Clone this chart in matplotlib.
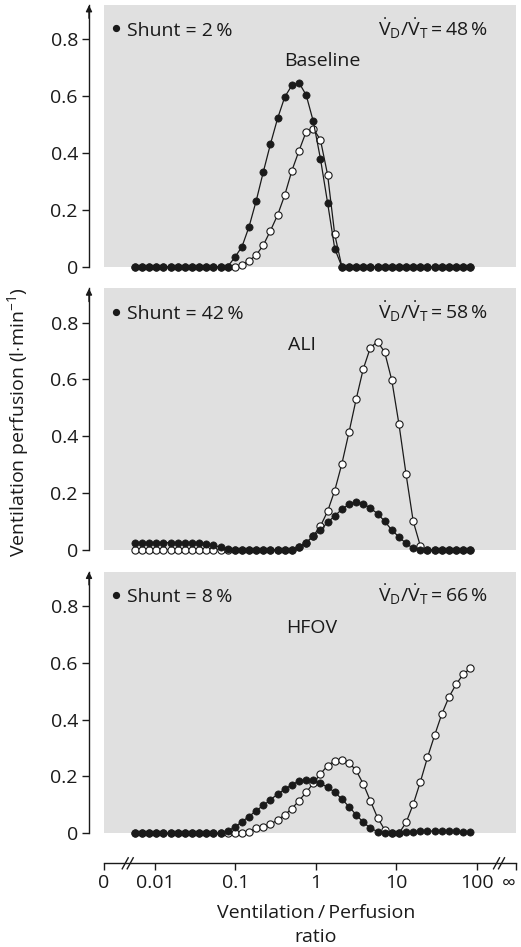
import numpy as np
import matplotlib
matplotlib.use("Agg")
import matplotlib.pyplot as plt
from matplotlib.transforms import offset_copy, IdentityTransform
from matplotlib.lines import Line2D

plt.rcParams['font.family'] = ['Open Sans', 'DejaVu Sans']
plt.rcParams['mathtext.fontset'] = 'custom'
plt.rcParams['mathtext.rm'] = 'Open Sans'
plt.rcParams['mathtext.it'] = 'Open Sans:italic'
plt.rcParams['mathtext.bf'] = 'Open Sans:bold'

# 48 V/Q compartments (log spaced)
va_q = np.logspace(-2.25, 1.92, 48)

# ventilation (open) and perfusion (filled), l/min
baseline_perf = [0]*14 + [0.033, 0.070, 0.141, 0.232, 0.334, 0.432, 0.522, 0.597, 0.638,
                          0.647, 0.604, 0.511, 0.380, 0.225, 0.064] + [0]*19
baseline_vent = [0]*14 + [0.0, 0.006, 0.021, 0.041, 0.076, 0.127, 0.182, 0.252, 0.338,
                          0.408, 0.475, 0.486, 0.446, 0.324, 0.114] + [0]*19

ali_perf = [0.026]*10 + [0.022, 0.016, 0.010, 0.005] + [0]*9 + \
    [0.012, 0.026, 0.049, 0.070, 0.097, 0.120, 0.143, 0.161, 0.169, 0.163, 0.147,
     0.128, 0.101, 0.070, 0.046, 0.023, 0.006] + [0]*8
ali_vent = [0]*23 + [0.011, 0.025, 0.050, 0.084, 0.136, 0.209, 0.303, 0.414, 0.530, 0.637,
                     0.712, 0.733, 0.696, 0.597, 0.443, 0.266, 0.101, 0.014] + [0]*7

hfov_perf = [0]*13 + [0.009, 0.021, 0.041, 0.059, 0.080, 0.098, 0.118, 0.138, 0.155,
                      0.171, 0.184, 0.188, 0.187, 0.176, 0.162, 0.145, 0.120, 0.094,
                      0.065, 0.039, 0.018, 0.006, 0.0, 0.0, 0.0, 0.004, 0.006, 0.007,
                      0.008, 0.008, 0.008, 0.008, 0.007, 0.006, 0.003]
hfov_vent = [0]*14 + [0.0, 0.002, 0.006, 0.018, 0.021, 0.032, 0.047, 0.065, 0.087,
                      0.115, 0.144, 0.176, 0.209, 0.238, 0.255, 0.259, 0.249, 0.221,
                      0.174, 0.114, 0.055, 0.012, 0.0, 0.0, 0.038, 0.102, 0.181, 0.267,
                      0.345, 0.419, 0.479, 0.524, 0.559, 0.581]

labels = ['Baseline', 'ALI', 'HFOV']
shunts = [2, 42, 8]
dead_space = [48, 58, 66]
label_x = [0.529, 0.480, 0.505]

xticks = [0.01, 0.1, 1, 10, 100]
xticklabels = ['0.01', '0.1', '1', '10', '100']
yticks = [0, 0.2, 0.4, 0.6, 0.8]
yticklabels = ['0', '0.2', '0.4', '0.6', '0.8']

W, H = 521, 947
fig = plt.figure(figsize=(W/100, H/100), dpi=100)

xmin, xmax = 10**-2.634, 10**2.488
ink = '#1a1a1a'
bg = '#e0e0e0'
fs = 14

zeros_px = [266.7, 550.0, 833.3]
ax_h = 261.5

perf_all = [baseline_perf, ali_perf, hfov_perf]
vent_all = [baseline_vent, ali_vent, hfov_vent]

for k in range(3):
    ax = fig.add_axes([104/W, 1 - zeros_px[k]/H, 412/W, ax_h/H])
    ax.set_facecolor(bg)
    ax.set_xscale('log')
    ax.set_xlim(xmin, xmax)
    ax.set_ylim(0, 0.92)

    ax.plot(va_q, vent_all[k], '-o', color=ink, lw=0.9, ms=5.2,
            mfc='white', mec=ink, mew=0.8, clip_on=False, zorder=3)
    ax.plot(va_q, perf_all[k], '-o', color=ink, lw=0.9, ms=5.2,
            mfc=ink, mec=ink, mew=0.5, clip_on=False, zorder=4)

    for s in ['top', 'right', 'bottom']:
        ax.spines[s].set_visible(False)
    ax.spines['left'].set_position(('outward', 10.8))
    ax.spines['left'].set_color(ink)
    ax.spines['left'].set_linewidth(1.0)
    ax.set_xticks([])
    ax.minorticks_off()
    ax.set_yticks(yticks)
    ax.set_yticklabels(yticklabels)
    ax.tick_params(axis='y', length=5, width=1.0, color=ink, pad=3,
                   labelsize=fs, labelcolor=ink)

    # arrowhead on top of y axis
    tr = offset_copy(ax.transAxes, fig=fig, x=-15, y=0, units='dots')
    ax.annotate('', xy=(0, 1.0), xycoords=tr, xytext=(0, 0.95), textcoords=tr,
                arrowprops=dict(arrowstyle='-|>', color=ink, lw=1.0,
                                mutation_scale=9, shrinkA=0, shrinkB=0),
                annotation_clip=False)

    # bullet (shunt symbol) + texts
    ax.plot([0.029], [0.912], 'o', transform=ax.transAxes, ms=4.2, color=ink,
            clip_on=False)
    ax.text(0.055, 0.883, 'Shunt = %d\u2009%%' % shunts[k],
            transform=ax.transAxes, fontsize=fs, color=ink, va='baseline', ha='left')
    ax.text(0.932, 0.883,
            r'$\dot{\mathrm{V}}_{\mathrm{D}}/\dot{\mathrm{V}}_{\mathrm{T}} = %d\,\%%$' % dead_space[k],
            transform=ax.transAxes, fontsize=fs, color=ink, va='baseline', ha='right')
    ax.text(label_x[k], 0.766, labels[k], transform=ax.transAxes, fontsize=fs,
            color=ink, va='baseline', ha='center')

# bottom V/Q axis with breaks
axb = fig.add_axes([104/W, 1 - 863.3/H, 412/W, 0.001])
axb.set_xscale('log')
axb.set_xlim(xmin, xmax)
axb.patch.set_visible(False)
for s in ['top', 'right', 'left']:
    axb.spines[s].set_visible(False)
axb.spines['bottom'].set_color(ink)
axb.spines['bottom'].set_linewidth(1.0)
axb.set_yticks([])
axb.minorticks_off()
axb.set_xticks([xmin] + xticks + [xmax])
axb.set_xticklabels(['0'] + xticklabels + ['\u221e'])
axb.tick_params(axis='x', length=5, width=1.0, color=ink, pad=3,
                labelsize=fs, labelcolor=ink)
axb.get_xticklabels()[-1].set_ha('right')

yb = H - 863.3
for bx in [10**-2.339, 10**2.277]:
    px = axb.transData.transform((bx, 1))[0]
    for dx in [-2.5, 2.5]:
        fig.add_artist(Line2D([px + dx - 3, px + dx + 3], [yb - 5.5, yb + 5.5],
                              transform=IdentityTransform(), color=ink, lw=1.0))

fig.text(316/W, 1 - 913/H, 'Ventilation\u2009/\u2009Perfusion', ha='center', va='center',
         fontsize=fs, color=ink)
fig.text(316/W, 1 - 937/H, 'ratio', ha='center', va='center', fontsize=fs, color=ink)
fig.text(18/W, 1 - 422/H, r'Ventilation perfusion (l$\cdot$min$^{-1}$)', rotation=90,
         ha='center', va='center', fontsize=fs, color=ink)

fig.savefig('out.png', dpi=100)
